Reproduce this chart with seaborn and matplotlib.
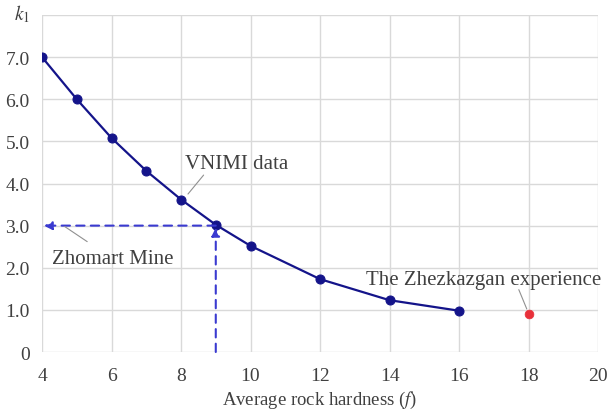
import matplotlib
matplotlib.use("Agg")
import matplotlib.pyplot as plt
import seaborn as sns
import pandas as pd

# Data
hardness = [4, 5, 6, 7, 8, 9, 10, 12, 14, 16]
k1_values = [7.0, 6.0, 5.08, 4.3, 3.62, 3.02, 2.52, 1.73, 1.23, 0.98]
zhez_x = [18]
zhez_y = [0.9]
zhomart_f = 9
zhomart_k = 3.0
xticks = [4, 6, 8, 10, 12, 14, 16, 18, 20]
yticks = [0, 1, 2, 3, 4, 5, 6, 7]
ytick_labels = ["0", "1.0", "2.0", "3.0", "4.0", "5.0", "6.0", "7.0"]

sns.set_theme(style="whitegrid")
plt.rcParams["font.family"] = ["Liberation Serif", "DejaVu Serif"]
plt.rcParams["mathtext.fontset"] = "stix"

df = pd.DataFrame({"f": hardness, "k1": k1_values})

fig = plt.figure(figsize=(6.09, 4.10), dpi=100)
ax = fig.add_axes([0.069, 0.139, 0.913, 0.822])

navy = "#14148a"
dash_c = "#3a3ad0"
txt_c = "#404040"
grid_c = "#d9d9d9"

sns.lineplot(data=df, x="f", y="k1", ax=ax, color=navy, linewidth=1.6,
             marker="o", markersize=6.5, markeredgecolor=navy, markerfacecolor=navy)
sns.scatterplot(x=zhez_x, y=zhez_y, ax=ax, color="#e8303a", s=40,
                edgecolor="#e8303a", zorder=5)

# dashed arrows
ax.annotate("", xy=(4.05, zhomart_k), xytext=(zhomart_f, zhomart_k),
            arrowprops=dict(arrowstyle="-|>", linestyle=(0, (4, 3)), color=dash_c,
                            lw=1.5, mutation_scale=12, shrinkA=0, shrinkB=0))
ax.annotate("", xy=(zhomart_f, zhomart_k - 0.05), xytext=(zhomart_f, 0),
            arrowprops=dict(arrowstyle="-|>", linestyle=(0, (4, 3)), color=dash_c,
                            lw=1.5, mutation_scale=12, shrinkA=0, shrinkB=0))

# labels with leader lines
leader = dict(arrowstyle="-", color="#909090", lw=0.8, shrinkA=0, shrinkB=0)
ax.annotate("VNIMI data", xy=(8.2, 3.72), xytext=(8.1, 4.47),
            fontsize=15, color=txt_c, va="center", ha="left")
ax.annotate("", xy=(8.2, 3.75), xytext=(8.65, 4.2), arrowprops=leader)
ax.annotate("Zhomart Mine", xy=(4.66, 3.0), xytext=(4.3, 2.23),
            fontsize=15, color=txt_c, va="center", ha="left")
ax.annotate("", xy=(4.65, 2.98), xytext=(5.3, 2.62), arrowprops=leader)
ax.annotate("The Zhezkazgan experience", xy=(18, 0.9), xytext=(16.7, 1.73),
            fontsize=15, color=txt_c, va="center", ha="center")
ax.annotate("", xy=(17.95, 1.02), xytext=(17.72, 1.48), arrowprops=leader)

ax.set_xlim(4, 20)
ax.set_ylim(0, 8)
ax.set_xticks(xticks)
ax.set_yticks(yticks + [8])
ax.set_yticklabels(ytick_labels + [""])
ax.grid(True, color=grid_c, linewidth=1.0)
for s in ax.spines.values():
    s.set_visible(False)
ax.tick_params(axis="y", length=7, color=grid_c, labelsize=14, labelcolor=txt_c, pad=2)
ax.tick_params(axis="x", length=3, color=grid_c, labelsize=14, labelcolor=txt_c, pad=8)
ax.set_xlabel("Average rock hardness ($f$)", fontsize=13.5, color=txt_c, labelpad=3)
ax.set_ylabel("")
fig.text(0.036, 0.965, "$k_1$", fontsize=14, color=txt_c, ha="center", va="center")

fig.savefig("out.png", dpi=100)
